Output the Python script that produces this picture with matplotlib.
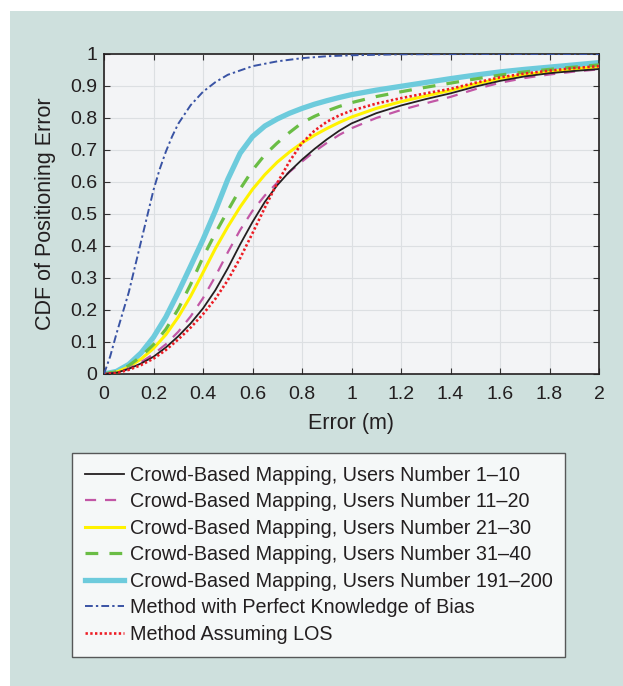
import matplotlib
matplotlib.use("Agg")
import matplotlib.pyplot as plt
from matplotlib.patches import Rectangle

plt.rcParams["font.family"] = ["Liberation Sans", "DejaVu Sans"]

# Positioning error grid (m) shared by the crowd-based and LOS curves
error_m = [0, 0.05, 0.1, 0.15, 0.2, 0.25, 0.3, 0.35, 0.4, 0.45, 0.5, 0.55, 0.6,
           0.65, 0.7, 0.75, 0.8, 0.85, 0.9, 0.95, 1.0, 1.1, 1.2, 1.3, 1.4, 1.5,
           1.6, 1.7, 1.8, 1.9, 2.0]

cdf_users_1_10 = [0, 0.004, 0.016, 0.033, 0.054, 0.083, 0.118, 0.158, 0.205, 0.262,
                  0.33, 0.405, 0.475, 0.538, 0.59, 0.633, 0.67, 0.703, 0.733, 0.76,
                  0.783, 0.815, 0.839, 0.859, 0.877, 0.898, 0.916, 0.93, 0.94, 0.947,
                  0.953]
cdf_users_11_20 = [0, 0.004, 0.017, 0.037, 0.062, 0.093, 0.132, 0.18, 0.237, 0.305,
                   0.38, 0.45, 0.51, 0.558, 0.598, 0.632, 0.664, 0.695, 0.722, 0.747,
                   0.768, 0.8, 0.825, 0.846, 0.866, 0.89, 0.91, 0.925, 0.936, 0.945,
                   0.952]
cdf_users_21_30 = [0, 0.006, 0.022, 0.047, 0.08, 0.123, 0.178, 0.243, 0.317, 0.392,
                   0.46, 0.522, 0.577, 0.623, 0.662, 0.694, 0.722, 0.746, 0.767, 0.786,
                   0.803, 0.83, 0.851, 0.869, 0.886, 0.906, 0.923, 0.935, 0.945, 0.953,
                   0.96]
cdf_users_31_40 = [0, 0.007, 0.026, 0.055, 0.092, 0.14, 0.203, 0.28, 0.365, 0.44,
                   0.51, 0.578, 0.637, 0.685, 0.722, 0.755, 0.785, 0.805, 0.822, 0.836,
                   0.848, 0.867, 0.882, 0.896, 0.909, 0.922, 0.934, 0.944, 0.952, 0.959,
                   0.966]
cdf_users_191_200 = [0, 0.008, 0.03, 0.066, 0.115, 0.178, 0.255, 0.337, 0.42, 0.51,
                     0.608, 0.69, 0.742, 0.775, 0.797, 0.815, 0.83, 0.843, 0.854, 0.864,
                     0.873, 0.887, 0.899, 0.911, 0.923, 0.934, 0.944, 0.952, 0.959,
                     0.966, 0.973]
cdf_assuming_los = [0, 0.003, 0.013, 0.028, 0.048, 0.075, 0.108, 0.145, 0.187, 0.235,
                    0.293, 0.362, 0.44, 0.52, 0.597, 0.665, 0.722, 0.76, 0.788, 0.808,
                    0.823, 0.845, 0.862, 0.877, 0.891, 0.91, 0.927, 0.939, 0.948, 0.956,
                    0.962]

# The perfect-knowledge curve rises much faster, so it has its own finer grid
error_bias_m = [0, 0.025, 0.05, 0.075, 0.1, 0.125, 0.15, 0.175, 0.2, 0.225, 0.25,
                0.275, 0.3, 0.35, 0.4, 0.45, 0.5, 0.6, 0.7, 0.8, 0.9, 1.0, 1.2, 1.5,
                2.0]
cdf_perfect_bias = [0, 0.055, 0.125, 0.19, 0.255, 0.335, 0.415, 0.495, 0.575, 0.64,
                    0.695, 0.742, 0.782, 0.84, 0.882, 0.912, 0.935, 0.962, 0.977,
                    0.987, 0.993, 0.996, 0.999, 1.0, 1.0]

labels = [
    "Crowd-Based Mapping, Users Number 1\u201310",
    "Crowd-Based Mapping, Users Number 11\u201320",
    "Crowd-Based Mapping, Users Number 21\u201330",
    "Crowd-Based Mapping, Users Number 31\u201340",
    "Crowd-Based Mapping, Users Number 191\u2013200",
    "Method with Perfect Knowledge of Bias",
    "Method Assuming LOS",
]

x_ticks = [0, 0.2, 0.4, 0.6, 0.8, 1, 1.2, 1.4, 1.6, 1.8, 2]
x_tick_labels = ["0", "0.2", "0.4", "0.6", "0.8", "1", "1.2", "1.4", "1.6", "1.8", "2"]
y_ticks = [0, 0.1, 0.2, 0.3, 0.4, 0.5, 0.6, 0.7, 0.8, 0.9, 1]
y_tick_labels = ["0", "0.1", "0.2", "0.3", "0.4", "0.5", "0.6", "0.7", "0.8", "0.9", "1"]

W, H = 623, 686
fig = plt.figure(figsize=(W / 100, H / 100), dpi=100, facecolor="white")
fig.patches.append(Rectangle((10 / W, 0), 1 - 10 / W, 1 - 11 / H,
                             transform=fig.transFigure, facecolor="#cee0dd",
                             edgecolor="none", zorder=-10))

ax = fig.add_axes([104 / W, 1 - 374 / H, 495 / W, 320 / H])
ax.set_facecolor("#f3f4f6")

text_color = "#231f20"
ax.plot(error_m, cdf_users_1_10, color="#231f20", lw=1.3, zorder=6, label=labels[0])
ax.plot(error_m, cdf_users_11_20, color="#c257a6", lw=1.6, dashes=(5, 4), zorder=5,
        label=labels[1])
ax.plot(error_m, cdf_users_21_30, color="#fff200", lw=2.2, zorder=3, label=labels[2])
ax.plot(error_m, cdf_users_31_40, color="#6abd45", lw=2.3, dashes=(4, 3.5), zorder=4,
        label=labels[3])
ax.plot(error_m, cdf_users_191_200, color="#6dcbdc", lw=3.8, zorder=2, label=labels[4])
ax.plot(error_bias_m, cdf_perfect_bias, color="#3953a4", lw=1.4,
        dashes=(4, 1.6, 1.2, 1.6), zorder=8, label=labels[5])
ax.plot(error_m, cdf_assuming_los, color="#ed1c24", lw=1.9, dashes=(0.9, 0.9), zorder=7,
        label=labels[6])

ax.set_xlim(0, 2)
ax.set_ylim(0, 1)
ax.set_xticks(x_ticks)
ax.set_xticklabels(x_tick_labels)
ax.set_yticks(y_ticks)
ax.set_yticklabels(y_tick_labels)
ax.grid(True, color="#dcdfe2", lw=0.8, zorder=0)
ax.set_axisbelow(True)
ax.tick_params(direction="in", length=4, width=0.8, top=True, right=True,
               labelsize=14, labelcolor=text_color, color="#333333")
ax.tick_params(axis="x", pad=8.5)
ax.tick_params(axis="y", pad=5)
for s in ax.spines.values():
    s.set_linewidth(1.2)
    s.set_color("#231f20")

ax.set_xlabel("Error (m)", fontsize=15.5, color=text_color, labelpad=7)
ax.set_ylabel("CDF of Positioning Error", fontsize=15.5, color=text_color, labelpad=10)

handles, lbls = ax.get_legend_handles_labels()
leg = fig.legend(handles, lbls, loc="upper left",
                 bbox_to_anchor=(72 / W, 1 - 453 / H), bbox_transform=fig.transFigure,
                 fontsize=14.2, frameon=True, fancybox=False, borderaxespad=0,
                 borderpad=0.65, labelspacing=0.38, handlelength=2.0,
                 handletextpad=0.28)
leg.get_frame().set_edgecolor("#333333")
leg.get_frame().set_linewidth(1.0)
leg.get_frame().set_facecolor("white")
for t in leg.get_texts():
    t.set_color(text_color)

fig.savefig("out.png", dpi=100, facecolor="white")
